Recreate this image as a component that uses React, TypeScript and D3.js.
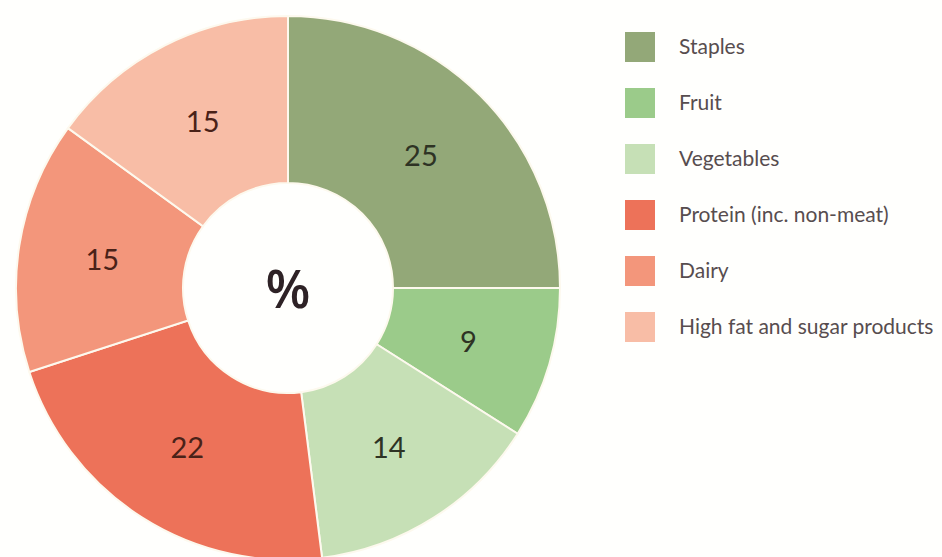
import React from "react";
import * as d3 from "d3";

const categories = ["Staples", "Fruit", "Vegetables", "Protein (inc. non-meat)", "Dairy", "High fat and sugar products"];
const values = [25, 9, 14, 22, 15, 15];
const colors = ["#93a878", "#9bcb8a", "#c6e0b6", "#ed7259", "#f3967b", "#f8bda6"];
const labelColors = ["#2e3324", "#2e3324", "#2e3324", "#4a2218", "#4a2218", "#4a2218"];

const W = 942;
const H = 557;
const cx = 288;
const cy = 288;
const outerR = 272;
const innerR = 105;

export default function App() {
  const pie = d3.pie<number>().sort(null).value((d) => d)(values);
  const arc = d3.arc<d3.PieArcDatum<number>>().innerRadius(innerR).outerRadius(outerR);
  const labelArc = d3.arc<d3.PieArcDatum<number>>().innerRadius(188).outerRadius(188);
  const legendY = d3.scaleBand<string>().domain(categories).range([19, 355]).paddingInner(0);
  return (
    <svg width={W} height={H} style={{ position: "absolute", left: 0, top: 0, display: "block", background: "#fffffd" }}>
      <g transform={`translate(${cx},${cy})`}>
        {pie.map((p, i) => (
          <path key={i} d={arc(p) || ""} fill={colors[i]} stroke="#fdf9ee" strokeWidth={2} />
        ))}
        {pie.map((p, i) => {
          const [x, y] = labelArc.centroid(p);
          return (
            <text key={"l" + i} x={x} y={y + 1} dy="0.35em" textAnchor="middle" fontFamily="Lato, 'Open Sans', sans-serif" fontSize={29} fill={labelColors[i]}>
              {values[i]}
            </text>
          );
        })}
        <text x={0} y={2} dy="0.35em" textAnchor="middle" fontFamily="'Open Sans', Lato, sans-serif" fontWeight={600} fontSize={52} fill="#2e2226">%</text>
      </g>
      <g>
        {categories.map((c, i) => {
          const y = (legendY(c) || 0) + legendY.bandwidth() / 2;
          return (
            <g key={c}>
              <rect x={625} y={y - 15} width={30} height={30} fill={colors[i]} />
              <text x={679} y={y} dy="0.35em" fontFamily="Lato, 'Open Sans', sans-serif" fontSize={21} fill="#574d4f">{c}</text>
            </g>
          );
        })}
      </g>
    </svg>
  );
}
